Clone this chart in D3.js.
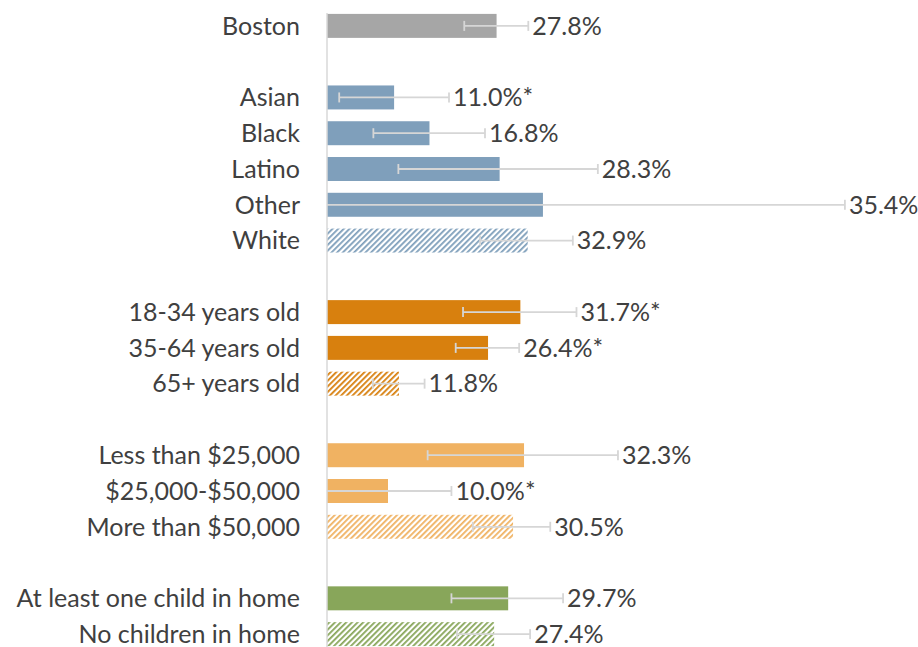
<!DOCTYPE html>
<html>
<head>
<meta charset="utf-8">
<script src="https://cdn.jsdelivr.net/npm/d3@7"></script>
<style>
  html, body { margin: 0; padding: 0; background: #fff; }
  svg { display: block; }
</style>
</head>
<body>
<svg id="chart" width="918" height="647"></svg>
<script>
// Row slots, top to bottom (empty strings are spacer rows between groups)
const categories = [
  "Boston", "",
  "Asian", "Black", "Latino", "Other", "White", "",
  "18-34 years old", "35-64 years old", "65+ years old", "",
  "Less than $25,000", "$25,000-$50,000", "More than $50,000", "",
  "At least one child in home", "No children in home"
];
// Percent values per row (null for spacers)
const values = [27.8, null, 11.0, 16.8, 28.3, 35.4, 32.9, null, 31.7, 26.4, 11.8, null, 32.3, 10.0, 30.5, null, 29.7, 27.4];
// 95% confidence interval bounds
const lower  = [22.5, null, 2.0, 7.6, 11.7, 0.0, 25.1, null, 22.3, 21.1, 7.5, null, 16.5, 0.0, 23.9, null, 20.4, 21.3];
const upper  = [33.0, null, 20.0, 25.9, 44.4, 84.9, 40.3, null, 40.9, 31.5, 16.0, null, 47.7, 20.4, 36.6, null, 38.7, 33.3];
// Significance marker
const starred = [false, null, true, false, false, false, false, null, true, true, false, null, false, true, false, null, false, false];
// Reference group of each block (drawn hatched)
const reference = [false, null, false, false, false, false, true, null, false, false, true, null, false, false, true, null, false, true];
// Colour group of each row
const group = ["all", null, "race", "race", "race", "race", "race", null, "age", "age", "age", null, "inc", "inc", "inc", null, "kids", "kids"];

const groupColor = { all: "#a6a6a6", race: "#7f9fbb", age: "#d8800e", inc: "#f0b262", kids: "#88a65a" };

const svg = d3.select("#chart");
const defs = svg.append("defs");

Object.entries(groupColor).forEach(([k, c]) => {
  const p = defs.append("pattern")
    .attr("id", "hatch-" + k)
    .attr("patternUnits", "userSpaceOnUse")
    .attr("width", 4).attr("height", 4)
    .attr("patternTransform", "rotate(45)");
  p.append("rect").attr("width", 4).attr("height", 4).attr("fill", "#fff");
  p.append("rect").attr("x", 0).attr("y", 0).attr("width", 1.8).attr("height", 4).attr("fill", c);
});

const x = d3.scaleLinear().domain([0, 100]).range([327, 937]);
const y = d3.scaleBand().domain(d3.range(categories.length)).range([8, 652]).paddingInner(0.33).paddingOuter(0.165);

const rows = categories.map((c, i) => ({
  i, name: c, v: values[i], lo: lower[i], hi: upper[i], star: starred[i], ref: reference[i], g: group[i]
})).filter(d => d.v !== null);

const font = "Lato, 'Open Sans', sans-serif";
const fontSize = 25;

// Bars
svg.append("g").selectAll("rect")
  .data(rows)
  .join("rect")
  .attr("x", x(0))
  .attr("y", d => y(d.i))
  .attr("width", d => x(d.v) - x(0))
  .attr("height", y.bandwidth())
  .attr("fill", d => d.ref ? `url(#hatch-${d.g})` : groupColor[d.g]);

// Vertical axis line
svg.append("line")
  .attr("x1", x(0)).attr("x2", x(0))
  .attr("y1", y(0) - 1).attr("y2", 647)
  .attr("stroke", "#d9d9d9").attr("stroke-width", 1.5);

// Error bars
const eb = svg.append("g").attr("stroke", "#d6d6d6").attr("stroke-width", 1.8).attr("fill", "none");
rows.forEach(d => {
  const cy = y(d.i) + y.bandwidth() / 2;
  eb.append("line").attr("x1", x(d.lo)).attr("x2", x(d.hi)).attr("y1", cy).attr("y2", cy);
  if (d.lo > 0) eb.append("line").attr("x1", x(d.lo)).attr("x2", x(d.lo)).attr("y1", cy - 5).attr("y2", cy + 5);
  eb.append("line").attr("x1", x(d.hi)).attr("x2", x(d.hi)).attr("y1", cy - 5).attr("y2", cy + 5);
});

// Category labels
svg.append("g").selectAll("text")
  .data(rows)
  .join("text")
  .attr("x", 300)
  .attr("y", d => y(d.i) + y.bandwidth() / 2)
  .attr("dy", "0.35em")
  .attr("text-anchor", "end")
  .attr("font-family", font)
  .attr("font-size", fontSize)
  .attr("fill", "#404040")
  .text(d => d.name);

// Value labels, just past the upper whisker
svg.append("g").selectAll("text")
  .data(rows)
  .join("text")
  .attr("x", d => x(Math.max(d.hi, d.v)) + 4)
  .attr("y", d => y(d.i) + y.bandwidth() / 2)
  .attr("dy", "0.35em")
  .attr("font-family", font)
  .attr("font-size", fontSize)
  .attr("fill", "#404040")
  .text(d => d3.format(".1f")(d.v) + "%" + (d.star ? "*" : ""));
</script>
</body>
</html>
